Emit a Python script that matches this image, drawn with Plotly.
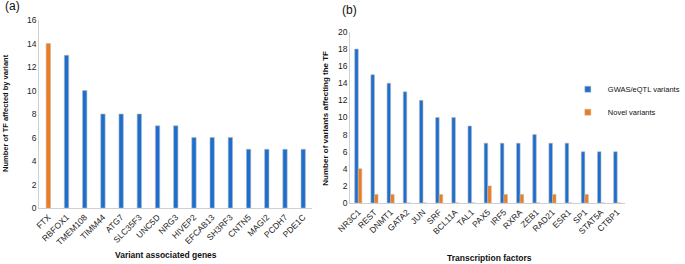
import plotly.graph_objects as go

genes = ["FTX", "RBFOX1", "TMEM108", "TIMM44", "ATG7", "SLC35F3", "UNC5D", "NRG3",
         "HIVEP2", "EFCAB13", "SH3RF3", "CNTN5", "MAGI2", "PCDH7", "PDE1C"]
gene_counts = [14, 13, 10, 8, 8, 8, 7, 7, 6, 6, 6, 5, 5, 5, 5]

tfs = ["NR3C1", "REST", "DNMT1", "GATA2", "JUN", "SRF", "BCL11A", "TAL1", "PAX5",
       "IRF5", "RXRA", "ZEB1", "RAD21", "ESR1", "SP1", "STAT5A", "CTBP1"]
gwas_vals = [18, 15, 14, 13, 12, 10, 10, 9, 7, 7, 7, 8, 7, 7, 6, 6, 6]
novel_vals = [4, 1, 1, 0, 0, 1, 0, 0, 2, 1, 1, 0, 1, 0, 1, 0, 0]
series_names = ["GWAS/eQTL variants", "Novel variants"]

BLUE = "#1c6fcf"
ORANGE = "#f07b1c"
EDGE = "#b8b8b8"
FONT = "Liberation Sans, Arial, sans-serif"

gene_colors = [ORANGE] + [BLUE] * (len(genes) - 1)

fig = go.Figure()
fig.add_trace(go.Bar(x=genes, y=gene_counts, marker=dict(color=gene_colors, line=dict(color=EDGE, width=0.6)),
                     width=0.24, showlegend=False, xaxis="x", yaxis="y"))
fig.add_trace(go.Bar(x=tfs, y=gwas_vals, name=series_names[0], showlegend=False,
                     marker=dict(color=BLUE, line=dict(color=EDGE, width=0.6)), xaxis="x2", yaxis="y2"))
fig.add_trace(go.Bar(x=tfs, y=novel_vals, name=series_names[1], showlegend=False,
                     marker=dict(color=ORANGE, line=dict(color=EDGE, width=0.6)), xaxis="x2", yaxis="y2"))
# legend entries with small square keys
for nm, col, grp in [(series_names[0], BLUE, "g1"), (series_names[1], ORANGE, "g2")]:
    fig.add_trace(go.Scatter(x=[None], y=[None], mode="markers", name=nm, legendgroup=grp,
                             marker=dict(symbol="square", size=6, color=col, line=dict(color=EDGE, width=0.5)),
                             xaxis="x2", yaxis="y2"))

axis_common = dict(showgrid=False, zeroline=False, showline=True, linecolor="#d0d0d0", linewidth=1,
                   ticks="", automargin=False, tickfont=dict(size=8.5, color="#222", family=FONT))

fig.update_layout(
    width=685, height=264,
    margin=dict(l=0, r=0, t=0, b=0),
    paper_bgcolor="white", plot_bgcolor="white",
    font=dict(family=FONT, color="#111"),
    barmode="group", bargap=0.56, bargroupgap=0,
    xaxis=dict(domain=[0.058, 0.462], tickangle=-45, anchor="y", **axis_common),
    yaxis=dict(domain=[0.212, 0.924], range=[0, 16], dtick=2, anchor="x", **axis_common),
    xaxis2=dict(domain=[0.518, 0.925], tickangle=-45, anchor="y2", **axis_common),
    yaxis2=dict(domain=[0.231, 0.879], range=[0, 20], dtick=2, anchor="x2", **axis_common),
    legend=dict(x=0.84, y=0.717, xanchor="left", yanchor="top", traceorder="grouped", tracegroupgap=4,
                font=dict(size=7.5, color="#111"), itemwidth=30, bgcolor="rgba(0,0,0,0)"),
    annotations=[
        dict(text="(a)", x=0.005, y=1.01, xref="paper", yref="paper", xanchor="left", yanchor="top",
             showarrow=False, font=dict(size=12, color="#111")),
        dict(text="(b)", x=0.503, y=0.995, xref="paper", yref="paper", xanchor="left", yanchor="top",
             showarrow=False, font=dict(size=12, color="#111")),
        # axis titles
        dict(text="<b>Variant associated genes</b>", x=168 / 685, y=1 - 255 / 264, xref="paper", yref="paper",
             xanchor="center", yanchor="middle", showarrow=False, font=dict(size=8.5, color="#111")),
        dict(text="<b>Transcription factors</b>", x=496 / 685, y=1 - 258 / 264, xref="paper", yref="paper",
             xanchor="center", yanchor="middle", showarrow=False, font=dict(size=8.5, color="#111")),
        dict(text="<b>Number of TF affected by variant</b>", x=6 / 685, y=1 - 113 / 264, xref="paper",
             yref="paper", xanchor="center", yanchor="middle", textangle=-90, showarrow=False,
             font=dict(size=7.5, color="#111")),
        dict(text="<b>Number of variants affecting the TF</b>", x=329 / 685, y=1 - 118 / 264, xref="paper",
             yref="paper", xanchor="center", yanchor="middle", textangle=-90, showarrow=False,
             font=dict(size=8, color="#111")),
    ],
)

fig.write_html("out.html", config={"displayModeBar": False},
               post_script="document.body.style.margin='0';")
